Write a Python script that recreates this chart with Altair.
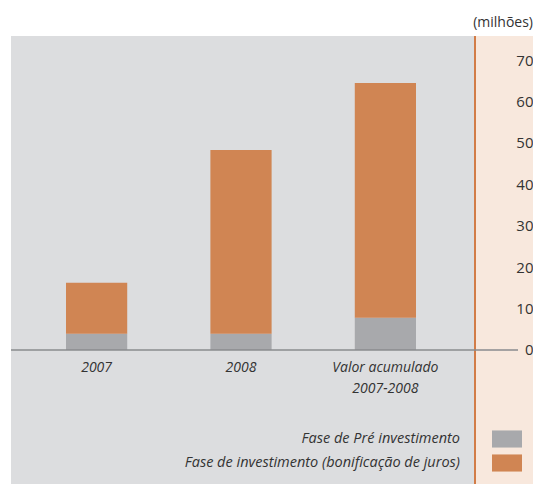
import altair as alt
import pandas as pd

categories = ["2007", "2008", "Valor acumulado 2007-2008"]
series = ["Fase de Pré investimento", "Fase de investimento (bonificação de juros)"]
pre_invest = [3.9, 3.9, 7.8]
invest = [12.3, 44.4, 56.7]
y_ticks = [0, 10, 20, 30, 40, 50, 60, 70]

GRAY_BG = "#dcdddf"
PEACH = "#f8e8dd"
BAR_GRAY = "#a8a9ac"
BAR_ORANGE = "#d08553"
LINE_ORANGE = "#d27c47"
TEXT = "#333333"
FONT = "Open Sans"

rows = []
for c, p, v in zip(categories, pre_invest, invest):
    rows.append({"cat": c, "serie": series[0], "val": p, "ord": 0})
    rows.append({"cat": c, "serie": series[1], "val": v, "ord": 1})
df = pd.DataFrame(rows)
one = pd.DataFrame({"k": [0]})

W, H = 522, 448
y_scale = alt.Scale(domain=[-32.4, 75.85], nice=False, zero=False)
x_scale = alt.Scale(domain=categories, range=[55, 405], paddingInner=0.576, paddingOuter=0)

peach = alt.Chart(one).mark_rect(color=PEACH).encode(
    x=alt.value(464), x2=alt.value(W), y=alt.value(0), y2=alt.value(H)
)
vline = alt.Chart(one).mark_rule(color=LINE_ORANGE, strokeWidth=2).encode(
    x=alt.value(464), y=alt.value(0), y2=alt.value(H)
)
zero = alt.Chart(one).mark_rule(color="#8a8b8e", strokeWidth=1.5).encode(
    x=alt.value(0), x2=alt.value(507), y=alt.datum(0, scale=y_scale)
)

bars = alt.Chart(df).mark_bar().encode(
    x=alt.X("cat:N", scale=x_scale, sort=categories, title=None,
            axis=alt.Axis(orient="bottom", offset=-134, ticks=False, domain=False,
                          labelAngle=0, labelPadding=10, labelFontStyle="italic",
                          labelFontSize=14, labelColor=TEXT, labelFont=FONT,
                          labelLineHeight=21, labelLimit=300, zindex=2,
                          labelExpr="datum.label == 'Valor acumulado 2007-2008' ? ['Valor acumulado', '2007-2008'] : datum.label")),
    y=alt.Y("val:Q", scale=y_scale, stack="zero", title=None,
            axis=alt.Axis(orient="right", offset=0, values=y_ticks, ticks=False, domain=False,
                          grid=False, labelAlign="right", labelPadding=0, labelFontSize=15,
                          labelColor=TEXT, labelFont=FONT, zindex=2)),
    color=alt.Color("serie:N", scale=alt.Scale(domain=series, range=[BAR_GRAY, BAR_ORANGE]),
                    legend=alt.Legend(title=None, orient="none", legendX=481, legendY=388,
                                      symbolType="M-1,-0.57L1,-0.57L1,0.57L-1,0.57Z",
                                      symbolSize=900, symbolStrokeWidth=0,
                                      labelAlign="right", labelOffset={"expr": "-62"},
                                      labelFontStyle="italic", labelFontSize=14.5,
                                      labelColor=TEXT, labelFont=FONT, labelLimit=400,
                                      rowPadding=0, padding=0)),
    order=alt.Order("ord:Q", sort="ascending"),
)

chart = alt.layer(peach, vline, bars, zero).properties(
    width=W, height=H,
    title=alt.TitleParams("(milhões)", anchor="end", fontSize=14, fontWeight="normal",
                          color=TEXT, font=FONT, offset=5),
    autosize=alt.AutoSizeParams(type="none"),
    padding={"left": 3, "top": 28, "right": 0, "bottom": 0},
    background="white",
).configure_view(fill=GRAY_BG, stroke=None)

chart.save("out.html", embed_options={"renderer": "svg", "actions": False})
